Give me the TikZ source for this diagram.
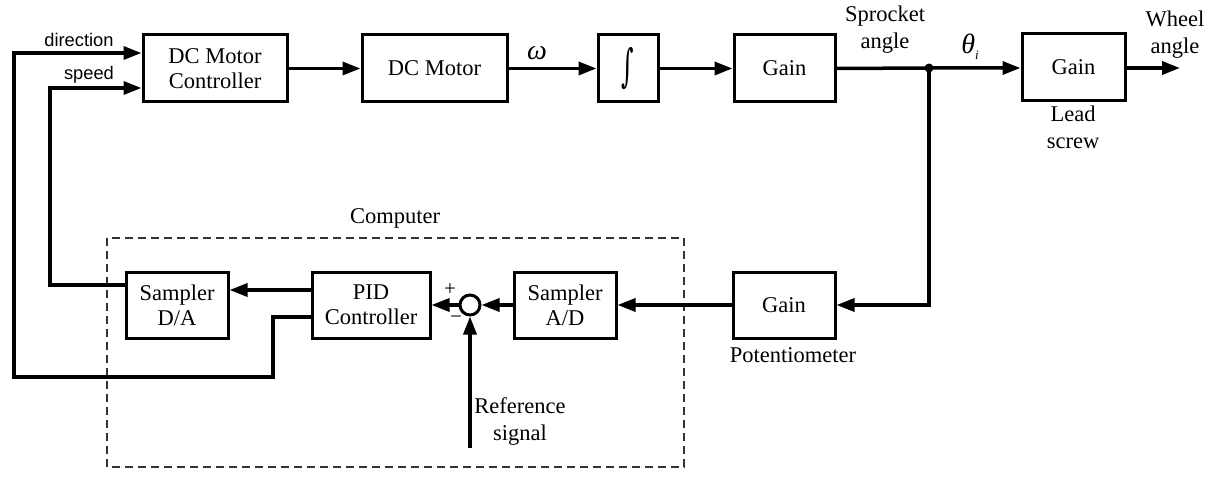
\documentclass[tikz,border=0pt]{standalone}
\usepackage{graphicx}
\usepackage{fontspec}
\setmainfont{Liberation Serif}
\setsansfont{Liberation Sans}
\newfontfamily\intfont{DejaVu Serif}
\usetikzlibrary{arrows.meta}
\tikzset{
  blk/.style={draw, line width=3pt, minimum height=67pt, inner sep=0pt, align=center,
    font=\fontsize{22.5}{25}\selectfont},
  sig/.style={line width=3.5pt, -{Triangle[length=18pt,width=13pt]}},
  lbl/.style={font=\fontsize{22.5}{27}\selectfont, align=center, inner sep=0pt},
  slbl/.style={font=\sffamily\fontsize{18.3}{20}\selectfont, inner sep=0pt},
  sym/.style={font=\fontsize{28}{28}\selectfont\itshape, inner sep=0pt},
  sgn/.style={font=\fontsize{21}{21}\selectfont, inner sep=0pt},
  frame/.style={draw=black!80, line width=1.2pt, dash pattern=on 8pt off 5pt}
}
\begin{document}
\begin{tikzpicture}[x=1pt,y=-1pt]
\useasboundingbox (0,0) rectangle (1214,476);

% computer enclosure
\draw[frame] (107,238) rectangle (684,467);
\node[lbl] at (395,218) {Computer};

% forward path
\node[blk, minimum width=144pt] (dcc) at (215,68.5) {DC Motor\\Controller};
\node[blk, minimum width=145pt] (dcm) at (434.5,68.5) {DC Motor};
\node[blk, minimum width=60pt] (integ) at (628,68.5) {\scalebox{0.8}[1.5]{\intfont\fontsize{30}{30}\selectfont ∫}};
\node[blk, minimum width=101pt] (gs) at (784.5,68.5) {Gain};
\node[blk, minimum width=103pt] (gl) at (1073.5,67) {Gain};
\coordinate (jn) at (929,68);
\coordinate (out) at (1180,68);

% feedback path
\node[blk, minimum width=102pt, minimum height=66pt] (sda) at (177,305) {Sampler\\D/A};
\node[blk, minimum width=118pt, minimum height=66pt] (pid) at (371,305) {PID\\Controller};
\node[draw, circle, line width=3pt, minimum size=20pt, inner sep=0pt] (sum) at (470,305) {};
\node[blk, minimum width=102pt, minimum height=66pt] (sad) at (565,305) {Sampler\\A/D};
\node[blk, minimum width=102pt, minimum height=66pt] (gp) at (784,305) {Gain};
\coordinate (ref) at (470,448);

% forward connectors
\draw[sig] (dcc.east) -- (dcm.west);
\draw[sig] (dcm.east) -- (integ.west);
\draw[sig] (integ.east) -- (gs.west);
\draw[sig] (gs.east) -- (jn) -- (gl.west |- jn);
\draw[sig] (gl.east |- out) -- (out);
\fill (jn) circle (4.5pt);

% feedback connectors
\draw[sig] (jn) |- (gp.east);
\draw[sig] (gp.west) -- (sad.east);
\draw[sig] (sad.west) -- (sum.east);
\draw[sig] (sum.west) -- (pid.east |- sum.west);
\draw[sig] (ref) -- (sum.south);
\draw[sig] (pid.west |- 0,290) -- (sda.east |- 0,290);
\draw[sig] (sda.west |- 0,285) -- (50,285) -- (50,88) -- (dcc.west |- 0,88);
\draw[sig] (pid.west |- 0,317) -- (273,317) -- (273,377) -- (14,377) -- (14,53) -- (dcc.west |- 0,53);

% signal labels
\node[slbl] at (79,40) {direction};
\node[slbl] at (89,75) {speed};
\node[sym] at (537,53) {ω};
\node[lbl] at (885,30) {Sprocket\\angle};
\node[sym] at (970,47) {θ\raisebox{-6pt}{\fontsize{13}{13}\selectfont i}};
\node[lbl] at (1175,35) {Wheel\\angle};
\node[lbl] at (1073,127) {Lead\\screw};
\node[lbl] at (793,355) {Potentiometer};
\node[lbl] at (520,422) {Reference\\signal};
\node[sgn] at (450,290) {+};
\node[sgn] at (456,320) {−};
\end{tikzpicture}
\end{document}
